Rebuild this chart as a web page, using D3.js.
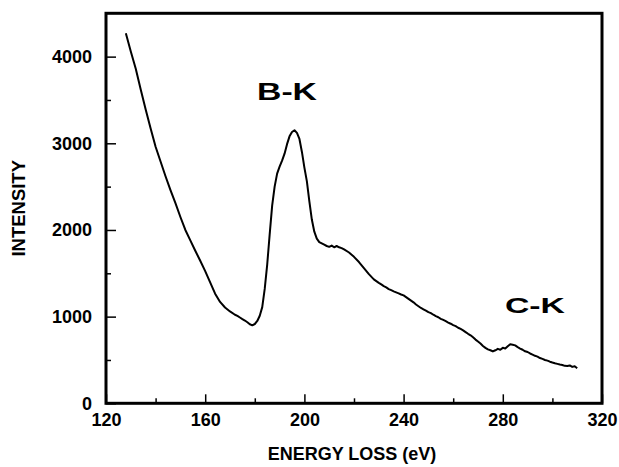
<!DOCTYPE html>
<html>
<head>
<meta charset="utf-8">
<script src="https://cdn.jsdelivr.net/npm/d3@7/dist/d3.min.js"></script>
<style>
  html, body { margin: 0; padding: 0; background: #fff; }
  svg { display: block; }
  text { font-family: "Liberation Sans", Arial, Helvetica, sans-serif; fill: #000; }
</style>
</head>
<body>
<svg id="chart" width="619" height="467"></svg>
<script>
// EELS spectrum: energy loss (eV) vs. intensity
const energy = [
  128, 130, 132, 134, 136, 138, 140, 142, 144, 146, 148, 150, 152, 154, 156, 158,
  160, 162, 164, 166, 168, 170, 172, 173, 174, 175, 176, 177, 178, 179, 180, 181, 182, 183,
  184, 185, 186, 187, 188, 189, 190, 191, 192, 193, 194, 195, 196, 197, 198, 199,
  200, 201, 202, 203, 204, 205, 206, 207, 208, 209, 210, 211, 212, 213, 214, 215,
  216, 218, 220, 222, 224, 226, 228, 230, 231, 232, 233, 234, 235, 236, 237, 238, 239,
  240, 241, 242, 243, 244, 245, 246, 247, 248, 249, 250, 251, 252, 253, 254, 255, 256,
  257, 258, 259, 260, 261, 262, 263, 264, 265, 266, 267, 268, 269, 270, 271, 272, 273,
  274, 275, 276, 277, 278, 279, 280, 281, 282, 283, 284, 285, 286, 287, 288, 289, 290,
  291, 292, 293, 294, 295, 296, 297, 298, 299, 300, 301, 302, 303, 304, 305, 306, 307,
  308, 309, 310
];
const intensity = [
  4270, 4060, 3860, 3620, 3390, 3170, 2960, 2790, 2620, 2460, 2310, 2150, 2000, 1880, 1760, 1645,
  1525, 1395, 1265, 1170, 1105, 1060, 1022, 1008, 990, 972, 955, 935, 912, 900, 915, 950, 1010, 1110,
  1320, 1600, 1950, 2280, 2500, 2650, 2730, 2800, 2880, 2990, 3080, 3130, 3150, 3120, 3050, 2900,
  2720, 2560, 2330, 2120, 1980, 1900, 1860, 1845, 1830, 1815, 1805, 1820, 1800, 1815, 1800, 1790,
  1775, 1740, 1690, 1630, 1560, 1490, 1430, 1390, 1372, 1352, 1338, 1318, 1305, 1292, 1280, 1268, 1255,
  1245, 1225, 1205, 1185, 1165, 1140, 1120, 1100, 1085, 1070, 1052, 1040, 1022, 1005, 993, 975, 962,
  948, 932, 918, 902, 890, 872, 858, 842, 822, 802, 785, 762, 735, 712, 690, 662, 640,
  622, 612, 598, 612, 628, 618, 640, 632, 658, 682, 676, 668, 648, 632, 618, 600, 592,
  575, 562, 548, 538, 522, 512, 500, 492, 480, 470, 462, 455, 447, 442, 432, 430, 437,
  420, 428, 405
];

// axis ticks
const xMajorTicks = [120, 160, 200, 240, 280, 320];
const xMinorTicks = [140, 180, 220, 260, 300];
const yMajorTicks = [0, 1000, 2000, 3000, 4000];
const yMinorTicks = [500, 1500, 2500, 3500];

// annotations
const peakLabels = ["B-K", "C-K"];

const svg = d3.select("#chart");
const plot = { left: 106, right: 602, top: 13.3, bottom: 403.3 };

const x = d3.scaleLinear().domain([120, 320]).range([plot.left, plot.right]);
const y = d3.scaleLinear().domain([0, 4500]).range([plot.bottom, plot.top]);

// y axis (ticks point inward)
svg.append("g")
  .attr("transform", `translate(${plot.left},0)`)
  .call(d3.axisLeft(y).tickValues(yMajorTicks).tickSize(-10).tickPadding(14).tickFormat(d3.format("d")));
svg.append("g")
  .attr("transform", `translate(${plot.left},0)`)
  .call(d3.axisLeft(y).tickValues(yMinorTicks).tickSize(-5).tickFormat(""));

// x axis
svg.append("g")
  .attr("transform", `translate(0,${plot.bottom})`)
  .call(d3.axisBottom(x).tickValues(xMajorTicks).tickSize(-9).tickPadding(10).tickFormat(d3.format("d")));
svg.append("g")
  .attr("transform", `translate(0,${plot.bottom})`)
  .call(d3.axisBottom(x).tickValues(xMinorTicks).tickSize(-5).tickFormat(""));

svg.selectAll(".domain").remove();
svg.selectAll(".tick line").attr("stroke", "#000").attr("stroke-width", 1.5);
svg.selectAll(".tick text")
  .attr("font-size", 18)
  .attr("font-weight", "bold")
  .attr("font-family", "'Liberation Sans', Arial, sans-serif")
  .attr("fill", "#000");

// frame
svg.append("rect")
  .attr("x", plot.left)
  .attr("y", plot.top)
  .attr("width", plot.right - plot.left)
  .attr("height", plot.bottom - plot.top)
  .attr("fill", "none")
  .attr("stroke", "#000")
  .attr("stroke-width", 3);

// spectrum
const line = d3.line()
  .x((d, i) => x(energy[i]))
  .y((d, i) => y(intensity[i]))
  .curve(d3.curveLinear);

svg.append("path")
  .datum(energy)
  .attr("d", line)
  .attr("fill", "none")
  .attr("stroke", "#000")
  .attr("stroke-width", 2)
  .attr("stroke-linejoin", "round");

// edge labels
svg.append("text")
  .attr("x", 257).attr("y", 100)
  .attr("font-size", 24).attr("font-weight", "bold")
  .attr("textLength", 60).attr("lengthAdjust", "spacingAndGlyphs")
  .text(peakLabels[0]);
svg.append("text")
  .attr("x", 505).attr("y", 313)
  .attr("font-size", 22).attr("font-weight", "bold")
  .attr("textLength", 60).attr("lengthAdjust", "spacingAndGlyphs")
  .text(peakLabels[1]);

// axis titles
svg.append("text")
  .attr("x", (plot.left + plot.right) / 2 - 2)
  .attr("y", 460)
  .attr("text-anchor", "middle")
  .attr("font-size", 18).attr("font-weight", "bold")
  .text("ENERGY LOSS (eV)");
svg.append("text")
  .attr("transform", `translate(25,${(plot.top + plot.bottom) / 2}) rotate(-90)`)
  .attr("text-anchor", "middle")
  .attr("font-size", 18.5).attr("font-weight", "bold")
  .text("INTENSITY");
</script>
</body>
</html>
